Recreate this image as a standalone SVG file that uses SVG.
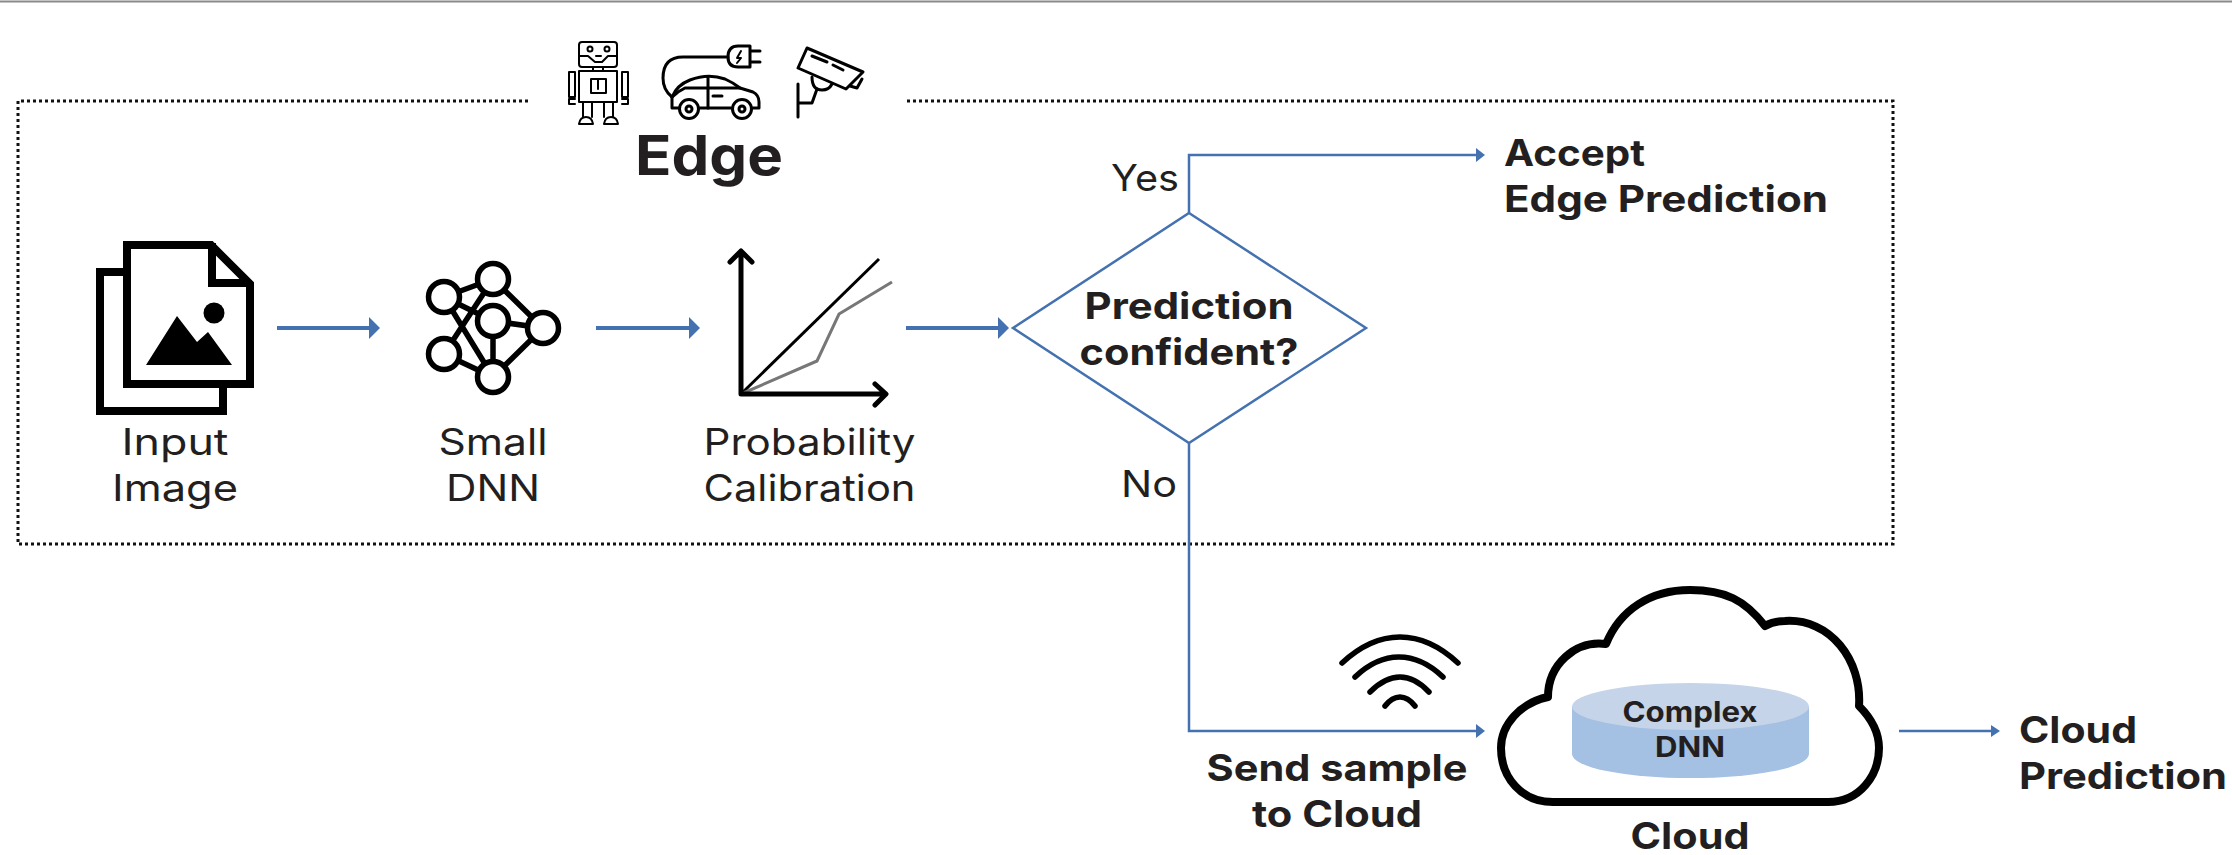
<svg xmlns="http://www.w3.org/2000/svg" width="2232" height="855" viewBox="0 0 2232 855">
<style>
text{font-family:Inter,"Liberation Sans",sans-serif;fill:#231f20;text-anchor:middle}
.r{font-size:37px;font-weight:400}
.b{font-size:37px;font-weight:700}
.s{text-anchor:start}
.ink{fill:none;stroke:#000;stroke-linejoin:round;stroke-linecap:round}
.blue{fill:none;stroke:#4472b0;stroke-width:2.5}
.thick{fill:none;stroke:#4472b0;stroke-width:4}
.head{fill:#4472b0}
</style>
<rect width="2232" height="855" fill="#fff"/>
<line x1="0" y1="1.5" x2="2232" y2="1.5" stroke="#8a8a8a" stroke-width="2"/>
<g id="edge-box">
<path d="M528 101H18V544H1893V101H905" fill="none" stroke="#111" stroke-width="3" stroke-dasharray="3 3"/>
<text x="709" y="175" font-size="55" font-weight="700" textLength="148" lengthAdjust="spacingAndGlyphs">Edge</text>
</g>
<g id="connectors">
<path class="thick" d="M277 328H370"/><path class="head" d="M369 317L380 328L369 339Z"/>
<path class="thick" d="M596 328H690"/><path class="head" d="M689 317L700 328L689 339Z"/>
<path class="thick" d="M906 328H999"/><path class="head" d="M998 317L1009 328L998 339Z"/>
<path class="blue" d="M1189 213V155H1478"/><path class="head" d="M1476 148L1485 155L1476 162Z"/>
<path class="blue" d="M1189 443V731H1478"/><path class="head" d="M1476 724L1485 731L1476 738Z"/>
<path class="blue" d="M1899 731H1992"/><path class="head" d="M1991 725L2000 731L1991 737Z"/>
</g>
<g id="edge-devices">
<g class="ink" stroke-width="2">
<rect x="579" y="42" width="38" height="25" rx="3"/>
<circle cx="590" cy="49" r="2.5"/><circle cx="607" cy="49" r="2.5"/>
<path d="M596 56H601M579 56H588L595 62H602L608 56H617M593 67V71M603 67V71"/>
<rect x="579" y="71" width="38" height="31"/>
<rect x="591" y="79" width="15" height="14"/><path d="M598 80V89"/>
<rect x="569" y="72" width="6" height="25"/><rect x="622" y="72" width="6" height="25"/>
<path d="M575 99H569V104H575M622 99H628V104H622"/>
<path d="M583 102V117M592 102V117M604 102V117M613 102V117"/>
<path d="M579 124Q580 117 586 117Q592 117 593 124ZM604 124Q605 117 611 117Q617 117 618 124Z"/>
</g>
<g class="ink" stroke-width="3">
<path d="M728 57H683Q663 57 663 78Q663 90 672 97"/>
<path d="M750 46H738Q728 46 728 57Q728 67 738 67H750ZM750 51H760M750 62H760"/>
<path d="M741 51L737 58H741L737 63" stroke-width="2"/>
<path d="M678 108H672V97Q677 85 690 80Q708 73 725 79Q734 83 740 88L753 92Q759 95 759 102V108H753M731 108H700"/>
<path d="M685 88H740M708 77V108M713 96H722M672 97L678 92 685 88"/>
<circle cx="689" cy="109" r="9.5" fill="#fff"/><circle cx="689" cy="109" r="3"/>
<circle cx="742" cy="109" r="9.5" fill="#fff"/><circle cx="742" cy="109" r="3"/>
</g>
<g class="ink" stroke-width="3">
<path d="M807 48L863 72L846 89L798 68Z"/>
<path d="M812 56L827 62M833 65L843 70"/>
<path d="M850 86L857 88L862 79"/>
<path d="M812 77Q812 90 822 90Q829 90 832 84"/>
<path d="M817 89L812 103H798M798 84V117"/>
</g>
</g>
<g id="input-image">
<path d="M123 272H100V411H223V388" fill="none" stroke="#000" stroke-width="8"/>
<path d="M127 245H211L250 284V384H127Z" fill="#fff" stroke="#000" stroke-width="8"/>
<path d="M212 243V283H250" fill="none" stroke="#000" stroke-width="8"/>
<circle cx="214" cy="313" r="10.5"/>
<path d="M146 365L177 316L197 342L208 332L232 365Z"/>
<text class="r" x="175" y="455" textLength="107" lengthAdjust="spacingAndGlyphs">Input</text>
<text class="r" x="175" y="501" textLength="126" lengthAdjust="spacingAndGlyphs">Image</text>
</g>
<g id="small-dnn">
<path fill="none" stroke="#000" stroke-width="5.5" d="M444 297L493 279M444 297L493 321M444 297L493 377M493 279L543 328M493 279L444 354M493 321L543 328M493 321V377M543 328L493 377M444 354L493 377"/>
<g fill="#fff" stroke="#000" stroke-width="5.5">
<circle cx="444" cy="297" r="15.5"/><circle cx="493" cy="279" r="15.5"/><circle cx="493" cy="321" r="15.5"/><circle cx="543" cy="328" r="15.5"/><circle cx="444" cy="354" r="15.5"/><circle cx="493" cy="377" r="15.5"/>
</g>
<text class="r" x="493" y="455" textLength="109" lengthAdjust="spacingAndGlyphs">Small</text>
<text class="r" x="493" y="501" textLength="94" lengthAdjust="spacingAndGlyphs">DNN</text>
</g>
<g id="probability-calibration">
<path d="M741 394L879 259" fill="none" stroke="#000" stroke-width="3"/>
<path d="M741 394L817 361L839 314L892 282" fill="none" stroke="#777" stroke-width="3"/>
<path class="ink" stroke-width="5" d="M741 394V251M730 262L741 251L752 262M741 394H885M875 384L886 394L875 405"/>
<text class="r" x="809.500" y="455" textLength="212" lengthAdjust="spacingAndGlyphs">Probability</text>
<text class="r" x="809.500" y="501" textLength="212" lengthAdjust="spacingAndGlyphs">Calibration</text>
</g>
<g id="decision">
<path d="M1189 213L1366 328L1189 443L1013 328Z" fill="#fff" stroke="#4472b0" stroke-width="2.5"/>
<text class="b" x="1189" y="319" textLength="209" lengthAdjust="spacingAndGlyphs">Prediction</text>
<text class="b" x="1189" y="365" textLength="219" lengthAdjust="spacingAndGlyphs">confident?</text>
<text class="r" x="1145" y="191" textLength="68" lengthAdjust="spacingAndGlyphs">Yes</text>
<text class="r" x="1149" y="497" textLength="56" lengthAdjust="spacingAndGlyphs">No</text>
</g>
<g id="accept">
<text class="b s" x="1504" y="166" textLength="141" lengthAdjust="spacingAndGlyphs">Accept</text>
<text class="b s" x="1504" y="212" textLength="324" lengthAdjust="spacingAndGlyphs">Edge Prediction</text>
</g>
<g id="send-sample">
<g class="ink" stroke-width="5.500">
<path d="M1342 663Q1370 637 1400 637Q1430 637 1458 663"/>
<path d="M1355 677Q1376 657 1399 657Q1422 657 1443 677"/>
<path d="M1370 692Q1385 677 1400 677Q1415 677 1429 692"/>
<path d="M1385 706Q1392 697 1400 697Q1408 697 1415 706"/>
</g>
<text class="b" x="1337" y="781" textLength="261" lengthAdjust="spacingAndGlyphs">Send sample</text>
<text class="b" x="1337" y="827" textLength="170" lengthAdjust="spacingAndGlyphs">to Cloud</text>
</g>
<g id="cloud">
<path d="M1553 802H1828C1860 802 1879 775 1879 748C1879 730 1870 717 1859 706C1862 660 1830 618 1785 621C1778 621 1770 623 1765 626C1745 600 1725 590 1690 590C1650 590 1620 610 1606 644C1575 640 1548 665 1548 697C1520 703 1501 725 1501 748C1501 778 1522 802 1553 802Z" fill="#fff" stroke="#000" stroke-width="8" stroke-linejoin="round"/>
<path d="M1572 706V754A118 24 0 0 0 1809 754V706Z" fill="#a4c0e3"/>
<ellipse cx="1690.500" cy="706.500" rx="118.500" ry="23.500" fill="#c5d4e9"/>
<text x="1690" y="722" font-size="28" font-weight="700" textLength="135" lengthAdjust="spacingAndGlyphs">Complex</text>
<text x="1690" y="757" font-size="28" font-weight="700" textLength="70" lengthAdjust="spacingAndGlyphs">DNN</text>
<text class="b" x="1690" y="849" textLength="119" lengthAdjust="spacingAndGlyphs">Cloud</text>
</g>
<g id="cloud-prediction">
<text class="b s" x="2019" y="743" textLength="118" lengthAdjust="spacingAndGlyphs">Cloud</text>
<text class="b s" x="2019" y="789" textLength="208" lengthAdjust="spacingAndGlyphs">Prediction</text>
</g>
</svg>
